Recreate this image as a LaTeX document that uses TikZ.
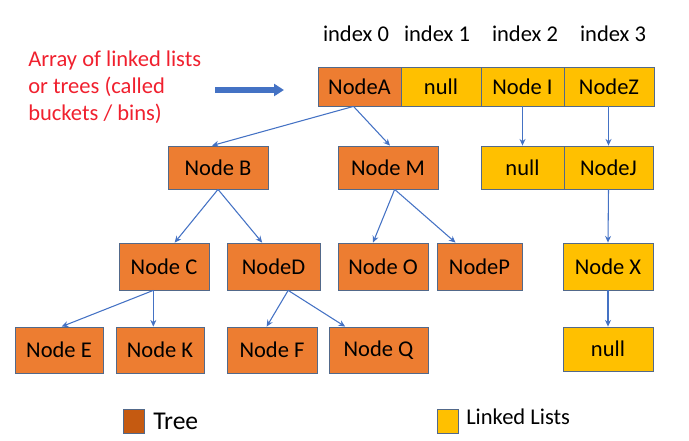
\documentclass[tikz,border=0pt]{standalone}
\usepackage{fontspec}
\setmainfont{Carlito}
\usetikzlibrary{arrows.meta}
\definecolor{treeorange}{HTML}{ED7D31}
\definecolor{treedark}{HTML}{C55A11}
\definecolor{listyellow}{HTML}{FFC000}
\definecolor{edgeblue}{HTML}{4472C4}
\definecolor{boxline}{HTML}{52698A}
\definecolor{notered}{HTML}{F0202E}
\begin{document}
\begin{tikzpicture}[x=0.75pt,y=-0.75pt,
  txt/.style={font=\fontsize{16.9}{20.25}\selectfont},
  cell/.style={txt,draw=boxline,line width=0.6pt,inner sep=0pt,text=black},
  tnode/.style={cell,fill=treeorange},
  lnode/.style={cell,fill=listyellow},
  link/.style={draw=edgeblue,line width=0.8pt,-{Stealth[length=5pt,width=4.5pt]}},
  bigarrow/.style={draw=edgeblue,line width=3.8pt,-{Triangle[length=7.5pt,width=9pt]}}]
\useasboundingbox (0,0) rectangle (689,441);

% index labels
\node[txt,anchor=base] (i0) at (356,42) {index 0};
\node[txt,anchor=base] (i1) at (437,42) {index 1};
\node[txt,anchor=base] (i2) at (525,42) {index 2};
\node[txt,anchor=base] (i3) at (613,42) {index 3};

% caption and pointer to the bucket array
\node[txt,text=notered,align=left,anchor=north west,inner sep=0pt] (cap) at (28,51)
  {Array of linked lists\\or trees (called\\buckets / bins)};
\coordinate (arrS) at (215,90);
\coordinate (arrE) at (284,90);
\draw[bigarrow] (arrS) -- (arrE);

% bucket array
\node[tnode,minimum width=83*0.75pt,minimum height=39*0.75pt] (A) at (359.5,86.5) {NodeA};
\node[lnode,minimum width=80*0.75pt,minimum height=39*0.75pt] (n1) at (441,86.5) {null};
\node[lnode,minimum width=83*0.75pt,minimum height=39*0.75pt] (I) at (522.5,86.5) {Node I};
\node[lnode,minimum width=90*0.75pt,minimum height=39*0.75pt] (Z) at (609,86.5) {NodeZ};

% second level
\node[tnode,minimum width=100*0.75pt,minimum height=43*0.75pt] (B) at (218,167.5) {Node B};
\node[tnode,minimum width=100*0.75pt,minimum height=43*0.75pt] (M) at (388,167.5) {Node M};
\node[lnode,minimum width=83*0.75pt,minimum height=43*0.75pt] (n2) at (522.5,167.5) {null};
\node[lnode,minimum width=89*0.75pt,minimum height=43*0.75pt] (J) at (608.5,167.5) {NodeJ};

% third level
\node[tnode,minimum width=90*0.75pt,minimum height=47*0.75pt] (C) at (164,266.5) {Node C};
\node[tnode,minimum width=93*0.75pt,minimum height=47*0.75pt] (D) at (273.5,266.5) {NodeD};
\node[tnode,minimum width=90*0.75pt,minimum height=47*0.75pt] (O) at (383,266.5) {Node O};
\node[tnode,minimum width=85*0.75pt,minimum height=47*0.75pt] (P) at (479.5,266.5) {NodeP};
\node[lnode,minimum width=90*0.75pt,minimum height=47*0.75pt] (X) at (608,266.5) {Node X};

% fourth level
\node[tnode,minimum width=88*0.75pt,minimum height=46*0.75pt] (E) at (59,350) {Node E};
\node[tnode,minimum width=88*0.75pt,minimum height=46*0.75pt] (K) at (160,350) {Node K};
\node[tnode,minimum width=90*0.75pt,minimum height=46*0.75pt] (F) at (272,350) {Node F};
\node[tnode,minimum width=99*0.75pt,minimum height=46*0.75pt] (Q) at (378.5,350) {Node Q};
\node[lnode,minimum width=90*0.75pt,minimum height=44*0.75pt] (n4) at (608,349) {null};

% tree edges
\draw[link] ([xshift=-4.5pt]A.south) -- ([xshift=-4.5pt]B.north);
\draw[link] ([xshift=-4.5pt]A.south) -- ([xshift=1.5pt]M.north);
\draw[link] (B.south) -- ([xshift=8pt]C.north);
\draw[link] (B.south) -- ([xshift=-8.5pt]D.north);
\draw[link] ([xshift=5pt]M.south) -- ([xshift=-7.5pt]O.north);
\draw[link] ([xshift=5pt]M.south) -- ([xshift=-18pt]P.north);
\draw[link] ([xshift=-8pt]C.south) -- ([xshift=2pt]E.north);
\draw[link] ([xshift=-8pt]C.south) -- ([xshift=-5pt]K.north);
\draw[link] ([xshift=11pt]D.south) -- ([xshift=-4pt]F.north);
\draw[link] ([xshift=11pt]D.south) -- ([xshift=-25pt]Q.north);

% list edges
\draw[link] (I.south) -- (n2.north);
\draw[link] (J.north |- Z.south) -- (J.north);
\draw[link] (J.south) -- (X.north);
\draw[link] (X.south) -- (n4.north);

% legend
\node[draw=boxline,line width=0.6pt,fill=treedark,minimum width=21*0.75pt,minimum height=24*0.75pt,inner sep=0pt] (legT) at (133.5,421) {};
\node[font=\fontsize{19.2}{22}\selectfont,anchor=base west,inner sep=0pt] (legTt) at (153,430) {Tree};
\node[draw=boxline,line width=0.6pt,fill=listyellow,minimum width=21*0.75pt,minimum height=24*0.75pt,inner sep=0pt] (legL) at (447.5,421) {};
\node[txt,anchor=base west,inner sep=0pt] (legLt) at (466,425) {Linked Lists};
\end{tikzpicture}
\end{document}
